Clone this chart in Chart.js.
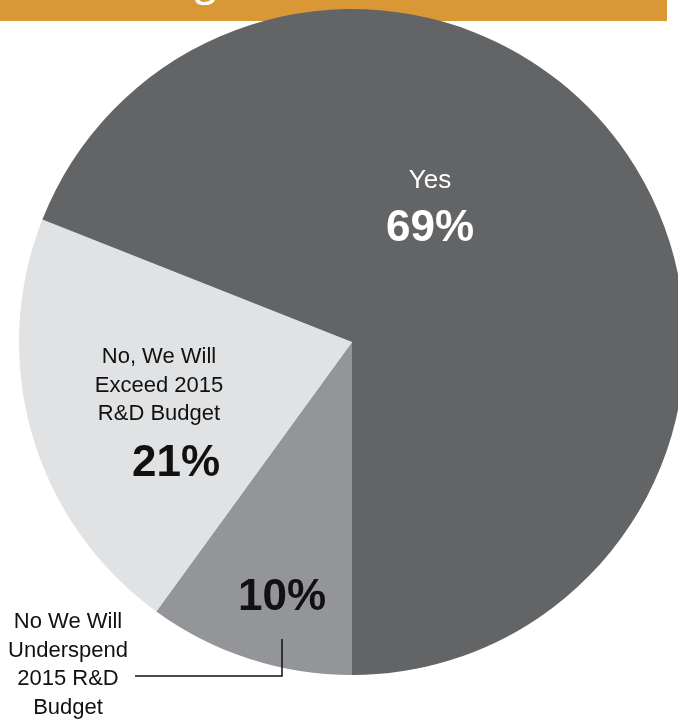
<!DOCTYPE html>
<html>
<head>
<meta charset="utf-8">
<script src="https://cdn.jsdelivr.net/npm/chart.js@4.4.1/dist/chart.umd.min.js"></script>
<style>
  html, body { margin: 0; padding: 0; background: #ffffff; }
  #frame { position: relative; width: 678px; height: 719px; overflow: hidden; background: #ffffff; }
  #banner { position: absolute; left: 0; top: 0; width: 667px; height: 21px; background: #D99735; overflow: hidden; }
  #banner span { position: absolute; left: 195px; top: -38px; font: 600 38px "Open Sans", sans-serif; color: #ffffff; line-height: 1; }
  #pie { position: absolute; left: 0; top: 0; }
</style>
</head>
<body>
<div id="frame">
  <div id="banner"><span>g</span></div>
  <canvas id="pie" width="700" height="719"></canvas>
</div>
<script>
// Survey answers, clockwise from six o'clock
const categories = [
  'No We Will Underspend 2015 R&D Budget',
  'No, We Will Exceed 2015 R&D Budget',
  'Yes'
];
const shares = [10, 21, 69];
const sliceColors = ['#939598', '#E1E2E4', '#636466'];

// Text placed on or beside each slice, offsets measured from the pie centre
const sliceText = [
  { name: ['No We Will', 'Underspend', '2015 R&D', 'Budget'], nameAt: [-284, 280], pctAt: [-70, 256], color: '#111111', outside: true },
  { name: ['No, We Will', 'Exceed 2015', 'R&D Budget'], nameAt: [-193, 15], pctAt: [-176, 122], color: '#111111' },
  { name: ['Yes'], nameAt: [78, -161], pctAt: [78, -113], color: '#ffffff', nameSize: 26 }
];

const labelPlugin = {
  id: 'sliceLabels',
  afterDatasetsDraw(chart) {
    const ctx = chart.ctx;
    const arcs = chart.getDatasetMeta(0).data;
    ctx.save();
    ctx.textAlign = 'center';
    ctx.textBaseline = 'middle';
    arcs.forEach((arc, i) => {
      const t = sliceText[i];
      const cx = arc.x, cy = arc.y;
      ctx.fillStyle = t.color;
      ctx.font = (t.nameSize || 22) + 'px "Liberation Sans", Arial, sans-serif';
      t.name.forEach((line, k) => {
        ctx.fillText(line, cx + t.nameAt[0], cy + t.nameAt[1] + k * 28.5);
      });
      ctx.font = 'bold 44px "Liberation Sans", Arial, sans-serif';
      ctx.fillText(shares[i] + '%', cx + t.pctAt[0], cy + t.pctAt[1]);
      if (t.outside) {
        // leader from the small slice out to its caption
        ctx.strokeStyle = '#111111';
        ctx.lineWidth = 1.5;
        ctx.beginPath();
        ctx.moveTo(cx - 70, cy + 297);
        ctx.lineTo(cx - 70, cy + 334);
        ctx.lineTo(cx - 217, cy + 334);
        ctx.stroke();
      }
    });
    ctx.restore();
  }
};

new Chart(document.getElementById('pie'), {
  type: 'pie',
  data: {
    labels: categories,
    datasets: [{
      data: shares,
      backgroundColor: sliceColors,
      borderWidth: 0
    }]
  },
  options: {
    responsive: false,
    animation: false,
    rotation: 180,
    layout: { padding: { left: 19, top: 9, right: 15, bottom: 44 } },
    plugins: {
      legend: { display: false },
      tooltip: { enabled: false }
    }
  },
  plugins: [labelPlugin]
});
</script>
</body>
</html>
